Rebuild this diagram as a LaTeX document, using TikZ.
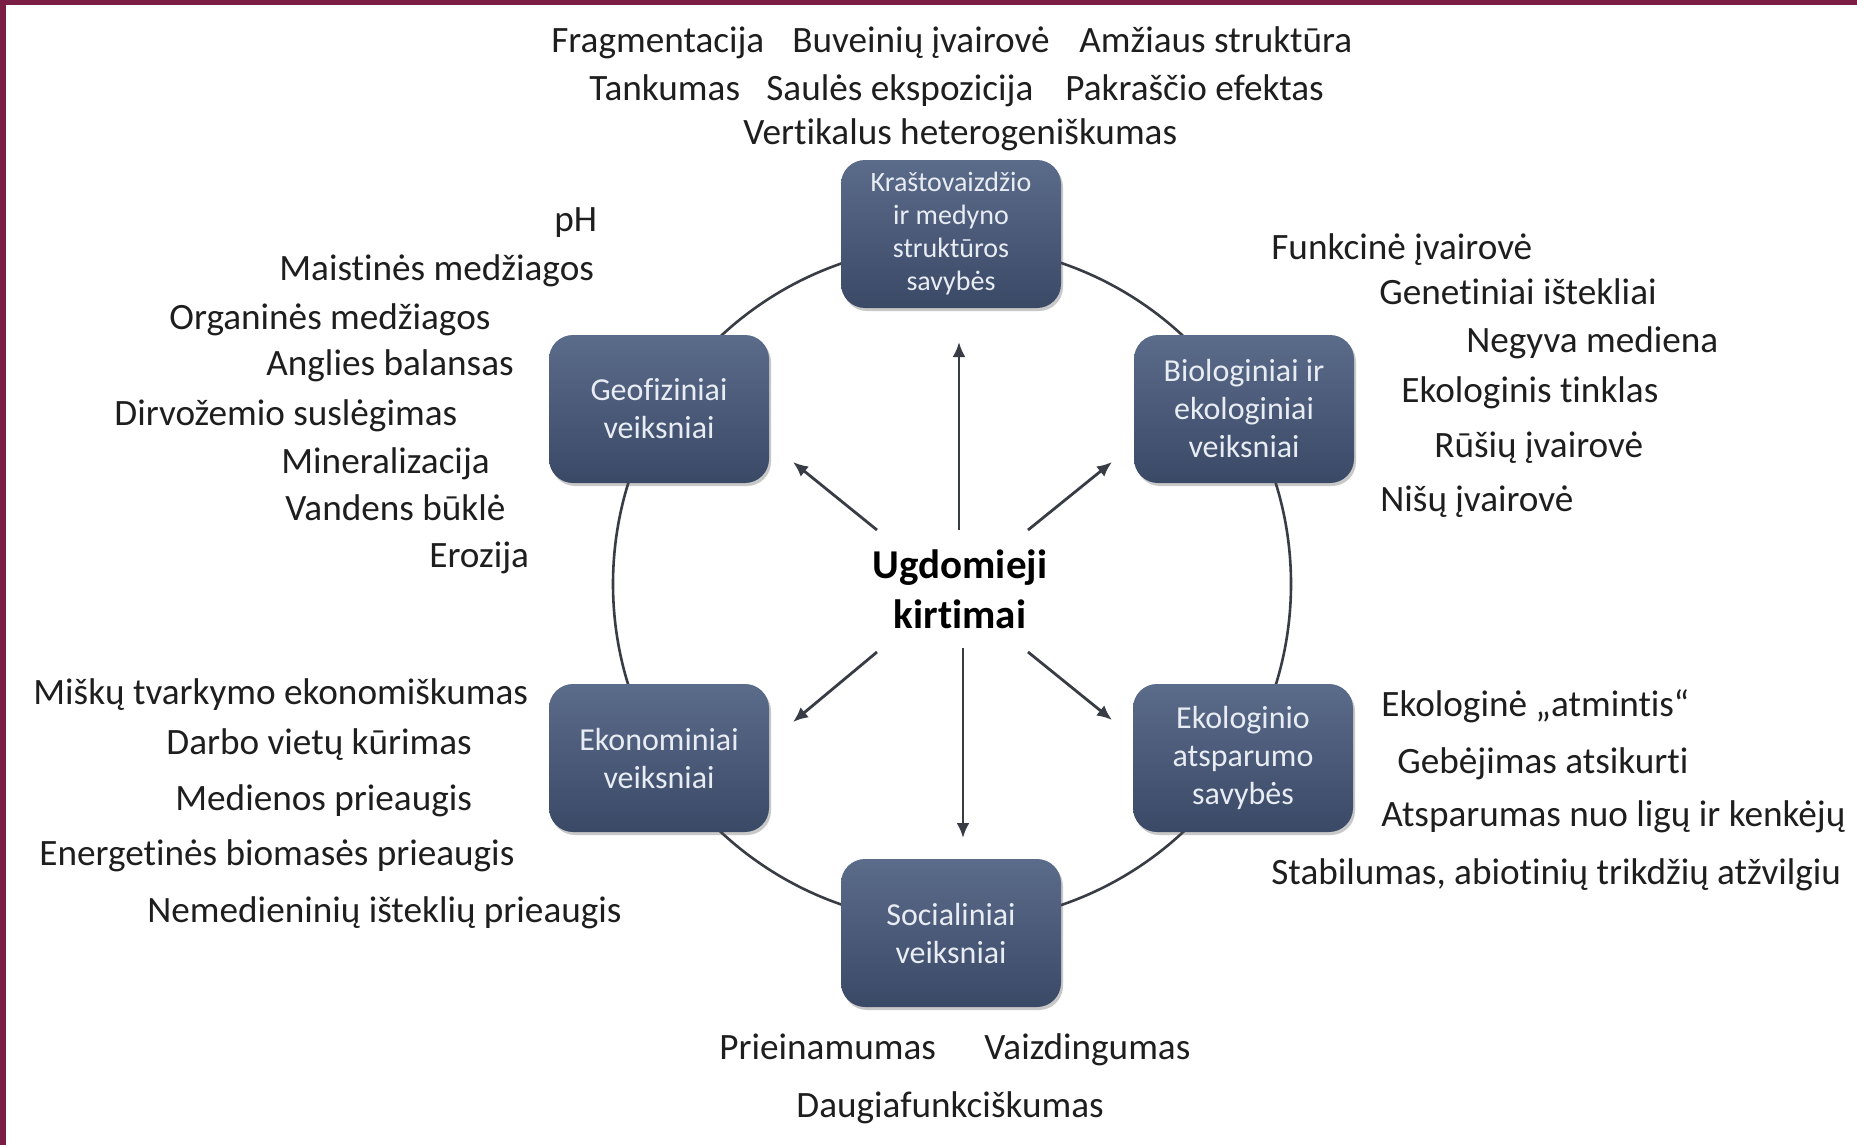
\documentclass[tikz,border=0pt]{standalone}
\usepackage{fontspec}
\setmainfont[Ligatures=NoCommon]{Carlito}
\usetikzlibrary{shadows,arrows.meta}
\definecolor{maroonc}{HTML}{7B1E45}
\definecolor{boxtop}{HTML}{5B6B8A}
\definecolor{boxbot}{HTML}{3A4966}
\definecolor{linec}{HTML}{383C45}
\definecolor{txt}{HTML}{1E1E1E}
\definecolor{boxtxt}{HTML}{E8ECF3}
\begin{document}
\begin{tikzpicture}[x=0.5pt,y=-0.5pt,
  box/.style={rounded corners=12pt, minimum width=110pt, minimum height=74pt,
    top color=boxtop, bottom color=boxbot, text=boxtxt, align=center,
    font=\fontsize{16}{19}\selectfont, inner sep=2pt,
    drop shadow={shadow xshift=1pt, shadow yshift=-1.5pt, opacity=0.3, fill=black!70}},
  lbl/.style={anchor=west, inner sep=0pt, text=txt, font=\fontsize{18.6}{22}\selectfont,
    text height=12.8pt, text depth=4.6pt},
  ring/.style={draw=linec, line width=1.3pt},
  arr/.style={draw=linec, line width=1.4pt, -{Latex[length=7.5pt,width=6.5pt]}},
]
\useasboundingbox (0,0) rectangle (1857,1145);
\fill[white] (0,0) rectangle (1857,1145);
\fill[maroonc] (0,0) rectangle (1857,5);
\fill[maroonc] (0,0) rectangle (6,1145);

% ring behind the boxes
\coordinate (ctr) at (952,584);
\draw[ring] (ctr) circle[radius=339];

% boxes
\node[box, font=\fontsize{14}{16.5}\selectfont] (top) at (951,234) {Kraštovaizdžio\\ir medyno\\struktūros\\savybės};
\node[box] (geo) at (659,409) {Geofiziniai\\veiksniai};
\node[box] (bio) at (1244,409) {Biologiniai ir\\ekologiniai\\veiksniai};
\node[box] (eko) at (659,758) {Ekonominiai\\veiksniai};
\node[box] (atsp) at (1243,758) {Ekologinio\\atsparumo\\savybės};
\node[box] (soc) at (951,933) {Socialiniai\\veiksniai};

% hub
\node[inner sep=0pt, align=center,
  font=\bfseries\fontsize{20.5}{25}\selectfont, text=black] (hub) at (960,589) {Ugdomieji\\kirtimai};
\coordinate (tU) at (959,342);
\coordinate (tGL) at (793,462);
\coordinate (tBR) at (1112,462);
\coordinate (tD) at (963,838);
\coordinate (tEL) at (793,722);
\coordinate (tAR) at (1112,720);
\draw[arr] ([shift={(-1,-59)}]hub.center) -- (tU);
\draw[arr] ([shift={(-83,-59)}]hub.center) -- (tGL);
\draw[arr] ([shift={(68,-59)}]hub.center) -- (tBR);
\draw[arr] ([shift={(3,59)}]hub.center) -- (tD);
\draw[arr] ([shift={(-83,63)}]hub.center) -- (tEL);
\draw[arr] ([shift={(68,63)}]hub.center) -- (tAR);

% top labels
\node[lbl] (a1) at (551,44) {Fragmentacija};
\node[lbl] (a2) at (792,44) {Buveinių įvairovė};
\node[lbl] (a3) at (1079,44) {Amžiaus struktūra};
\node[lbl] (a4) at (589,92) {Tankumas};
\node[lbl] (a5) at (766,92) {Saulės ekspozicija};
\node[lbl] (a6) at (1065,92) {Pakraščio efektas};
\node[lbl] (a7) at (743,136) {Vertikalus heterogeniškumas};

% geo labels
\node[lbl] (b1) at (554,223) {pH};
\node[lbl] (b2) at (279,272) {Maistinės medžiagos};
\node[lbl] (b3) at (169,321) {Organinės medžiagos};
\node[lbl] (b4) at (266,367) {Anglies balansas};
\node[lbl] (b5) at (114,417) {Dirvožemio suslėgimas};
\node[lbl] (b6) at (281,465) {Mineralizacija};
\node[lbl] (b7) at (285,512) {Vandens būklė};
\node[lbl] (b8) at (429,559) {Erozija};

% bio labels
\node[lbl] (c1) at (1271,251) {Funkcinė įvairovė};
\node[lbl] (c2) at (1379,296) {Genetiniai ištekliai};
\node[lbl] (c3) at (1466,344) {Negyva mediena};
\node[lbl] (c4) at (1401,394) {Ekologinis tinklas};
\node[lbl] (c5) at (1434,449) {Rūšių įvairovė};
\node[lbl] (c6) at (1380,503) {Nišų įvairovė};

% eko labels
\node[lbl] (d1) at (33,696) {Miškų tvarkymo ekonomiškumas};
\node[lbl] (d2) at (166,746) {Darbo vietų kūrimas};
\node[lbl] (d3) at (175,802) {Medienos prieaugis};
\node[lbl] (d4) at (39,857) {Energetinės biomasės prieaugis};
\node[lbl] (d5) at (147,914) {Nemedieninių išteklių prieaugis};

% atsparumo labels
\node[lbl] (e1) at (1381,708) {Ekologinė „atmintis“};
\node[lbl] (e2) at (1397,765) {Gebėjimas atsikurti};
\node[lbl] (e3) at (1381,818) {Atsparumas nuo ligų ir kenkėjų};
\node[lbl] (e4) at (1271,876) {Stabilumas, abiotinių trikdžių atžvilgiu};

% social labels
\node[lbl] (f1) at (719,1051) {Prieinamumas};
\node[lbl] (f2) at (984,1051) {Vaizdingumas};
\node[lbl] (f3) at (796,1109) {Daugiafunkciškumas};
\end{tikzpicture}
\end{document}
